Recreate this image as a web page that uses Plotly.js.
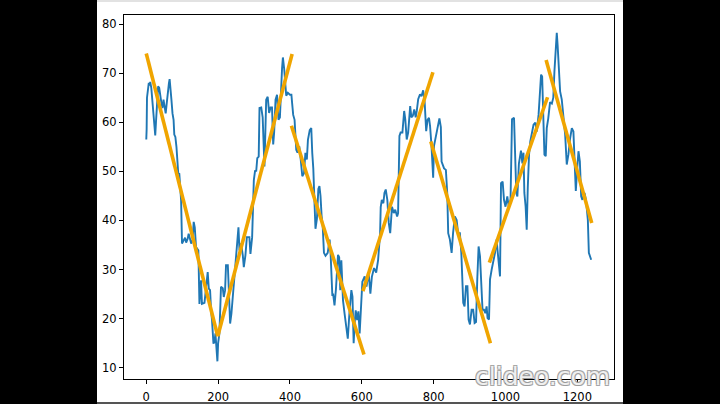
<!DOCTYPE html>
<html>
<head>
<meta charset="utf-8">
<script src="https://cdn.plot.ly/plotly-3.0.1.min.js"></script>
<style>
html,body{margin:0;padding:0;background:#000;width:720px;height:404px;overflow:hidden;}
#plot{position:absolute;left:97px;top:0;width:526px;height:404px;background:#fff;}
#topline{position:absolute;left:97px;top:0;width:526px;height:2px;background:#e2e2e2;z-index:5;}
#botline{position:absolute;left:97px;top:402px;width:526px;height:2px;background:#555;z-index:5;}
</style>
</head>
<body>
<div id="plot"></div>
<div id="topline"></div>
<div id="botline"></div>
<script>
// Noisy series (x = sample index, y = value)
const seriesX = [0,1,2,4,7,9,11,14,17,20,23,25,27,30,33,36,39,42,45,48,51,54,57,60,63,65,67,70,73,76,78,81,84,87,89,92,95,
97,99.5,104,108,111,115,118,122,125,129,132,135,138.5,145,148,152.5,155,162,166,171,174,177.6,180.4,183,187,190,192.5,195.3,198,200,203.6,208,213,215.7,219.4,222,227,229.7,233.4,237,240.8,243.6,248.3,252,256.6,259.4,264,268.7,271.5,276,280,287,290,294.7,
299.4,303,306,309,313,315.2,320,324,327,329,333.8,338,342,346,350,353.3,356,359.8,364,368,372,375.6,378,380.3,384,389.6,394,400,404,406,409,
412.8,417.5,421,426,430,434.3,439,443,447,450,455,459.3,462,465,468.6,471,475,479,482,485,488,491,494.6,499,505,510.4,
513,518,520,524,528,533.7,537,540,543,547.6,552,557,561,566,570.9,574,577.3,580,583,587,590.4,594,598,601.5,608,613,619,623.8,628,634,640,645.3,650.9,652.6,655.6,660,663,666.6,671,675,679,684,689,693,698.3,701,704.7,708,713,717.9,721,725,729,732,734.6,738,742,746,750,753,756.9,762,766,770.8,775,779.2,783,787,790,794,798.6,801,806,810.8,816,820,822,829,834,837.8,840.5,845.2,850,854,859,864,868,873,877,882.3,886,890,894,897.2,901,905.6,910,914,918,921.4,925.1,929,932.6,936,940,944,947.4,950,954.1,956.9,961.5,966,970.8,975,980,984.7,987.5,992,995.8,1000,1005,1009,1014,1018.1,1023.7,1027,1030,1033,1037.3,1043,1047,1050,1052.5,1056,1059,1062,1065.5,1069,1073.3,1078,1083,1087,1092,1096.2,1099,1102,1105,1108.3,1112,1114.8,1119,1124,1129,1133,1136.2,1140,1142.7,1145,1148.3,1152,1156.6,1161,1166,1170.5,1175,1180,1184.6,1189,1192,1195.7,1199,1203.1,1207,1210.6,1214,1220,1224,1229.2,1232,1235.7,1238.5];
const seriesY = [56.5,58.5,65,66,68,67.5,68.2,67,64,60.5,57.8,57.3,60,65.2,67.3,67,65,64,62.9,64.6,63.2,61.8,63.9,66.5,67.9,68.8,67.5,64.6,61.8,60.5,57.5,57,55,52.5,49.6,49.5,46,
44,35.3,35.8,36.5,35.5,36.2,37.3,36,35.3,36,39.7,38.6,34.6,33.9,23,27.8,23,23.2,25.8,29.5,26.1,25.8,21.7,19.7,14.9,15.3,17,14.9,11.3,15,17,26.5,26.2,24.4,25.8,30.9,30.9,26.1,19,21,24.4,28.5,31.5,34.2,38.6,33.9,35.3,32.9,30.5,32.9,36.6,36.6,33.2,36.6,
48.2,50.2,50,52.7,53,62.9,63,61,56,51,64.6,65.2,61.9,63,63,55.5,58,64.6,65.6,60.5,61,68.7,71,73.2,70.8,65.4,66,65.6,65.6,63.9,61.5,
60.5,54.4,53.8,55.1,52.4,49,49.6,53.8,52.4,56.4,58.4,58.8,53.8,50.5,43,38.3,40.3,46.4,47,45,41,39,33.4,32.8,33.4,36.1,
33.4,24.6,25.1,22.7,26,33,32.5,25.8,31.9,23.7,21,17.3,15.9,21.7,25.8,24.5,15,19,21.7,19.7,21.5,17,23.7,27.5,28.6,26.5,29.4,25.1,28.5,30.3,29.4,31.9,37.4,42.7,44.2,43.5,45.6,46.3,44.2,39.5,37.4,42.8,41.5,42.2,40.8,41.5,57.2,57.9,57.9,62.3,60.6,56.5,57.9,60.6,63.3,61,61.3,62.6,61,62.3,64.7,65.7,65.3,66.5,64,58.2,60.5,60.9,59.2,55.2,48.7,55.2,56.9,59.2,60.8,59,52,50.6,50.3,45.6,37.4,36.1,33.4,37.4,40.8,40.1,37.4,37.4,33.4,23.2,22.5,26.6,26.6,19.8,18.8,21.8,21.8,19.1,19.3,28,34.7,32.7,25.2,21.8,21.8,21.1,22.5,20.1,19.8,28,30,31.4,33.4,36.1,32,28.6,47.6,47.9,44.2,42.8,44.9,42.8,44.2,60.6,60.9,53.8,45.6,44.9,51.6,54.2,51.6,53.8,45.6,42.8,38.1,46.7,53.4,56.1,57.5,59.5,59.9,58.1,61.5,66.3,69.7,69.3,63.6,53.4,53.1,58.8,60.8,64.1,63.8,65,70.4,75.1,78.2,75.8,71.1,66.3,64.6,60.8,57.5,51.4,53.4,56.8,58.8,58.1,52.7,46,50,54.1,52,44.9,44.2,45.6,44.2,40.1,33.4,32.8,32];

// Piecewise linear fit segments
const fitStartX = [0, 199, 404, 603, 792, 955, 1113];
const fitStartY = [74, 16.4, 59.3, 25.6, 56.1, 31.4, 72.7];
const fitEndX   = [199, 406, 606, 798, 958, 1117, 1240];
const fitEndY   = [16.4, 73.9, 12.7, 70.2, 15, 65.1, 39.5];

const xTicks = [0, 200, 400, 600, 800, 1000, 1200];
const yTicks = [10, 20, 30, 40, 50, 60, 70, 80];

const fx = [], fy = [];
for (let i = 0; i < fitStartX.length; i++) {
  fx.push(fitStartX[i], fitEndX[i], null);
  fy.push(fitStartY[i], fitEndY[i], null);
}

const traces = [
  {x: seriesX, y: seriesY, type: 'scatter', mode: 'lines',
   line: {color: '#1f77b4', width: 1.9}, hoverinfo: 'skip'},
  {x: fx, y: fy, type: 'scatter', mode: 'lines', connectgaps: false,
   line: {color: '#f0a500', width: 3.6}, hoverinfo: 'skip'}
];

const axisCommon = {
  showgrid: false, zeroline: false, showline: true, mirror: true,
  linecolor: '#000', linewidth: 1, ticks: 'outside', ticklen: 4,
  tickwidth: 1, tickcolor: '#000',
  tickfont: {family: 'DejaVu Sans', size: 11.5, color: '#000'}
};

const layout = {
  width: 526, height: 404,
  margin: {l: 27, r: 9, t: 15, b: 25},
  paper_bgcolor: '#fff', plot_bgcolor: '#fff',
  showlegend: false,
  xaxis: Object.assign({}, axisCommon, {range: [-62, 1302], tickvals: xTicks, ticktext: xTicks.map(String), ticklabelstandoff: 3}),
  yaxis: Object.assign({}, axisCommon, {range: [7.7, 81.85], tickvals: yTicks, ticktext: yTicks.map(String)}),
  annotations: [{
    text: 'clideo.com', xref: 'paper', yref: 'paper', x: 0.855, y: 0.006,
    xanchor: 'center', yanchor: 'middle', showarrow: false,
    font: {family: 'DejaVu Sans', size: 25, color: 'rgba(255,255,255,0.85)',
           shadow: '1px 1px 0 #999, -1px -1px 0 #999, 1px -1px 0 #999, -1px 1px 0 #999'}
  }]
};

Plotly.newPlot('plot', traces, layout, {displayModeBar: false, staticPlot: true});
</script>
</body>
</html>
